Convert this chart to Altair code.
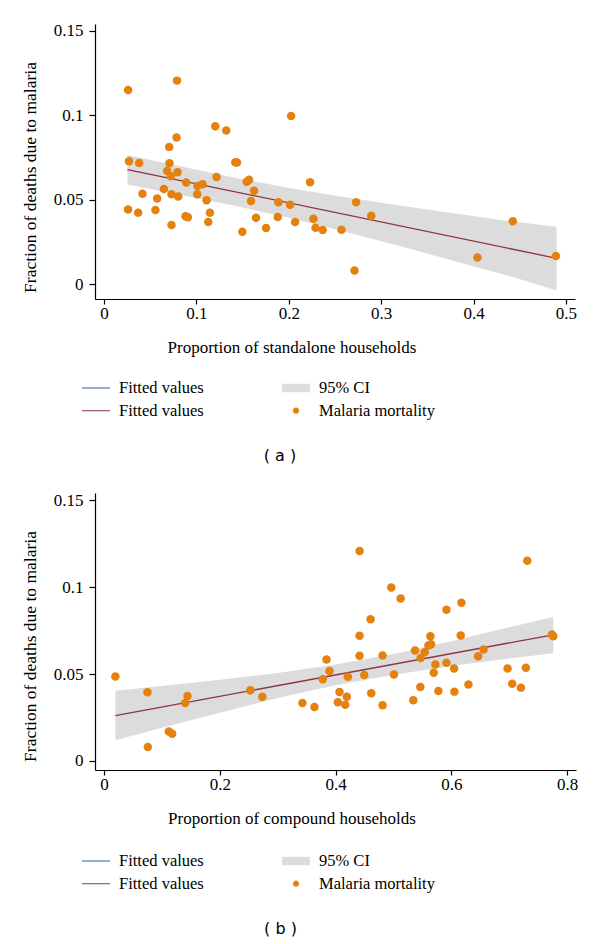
import altair as alt
import pandas as pd

# ---------------- data: panel (a) ----------------
xa = [0.026, 0.079, 0.027, 0.038, 0.0705, 0.0785, 0.0708, 0.0683, 0.0723, 0.0795,
      0.0647, 0.0416, 0.0575, 0.073, 0.0803, 0.026, 0.0369, 0.0556, 0.073, 0.0889,
      0.1012, 0.1066, 0.1009, 0.111, 0.1146, 0.1128, 0.0882, 0.0907, 0.1204, 0.1323,
      0.1218, 0.1421, 0.1439, 0.1544, 0.157, 0.1624, 0.1591, 0.1645, 0.1497, 0.1754,
      0.1887, 0.188, 0.2014, 0.2025, 0.2068, 0.223, 0.2729, 0.2267, 0.2289, 0.2367,
      0.257, 0.2892, 0.2711, 0.4425, 0.4042, 0.4892]
ya = [0.115, 0.1205, 0.0728, 0.0718, 0.0813, 0.0868, 0.0716, 0.0671, 0.0639, 0.0663,
      0.0564, 0.0536, 0.0507, 0.0533, 0.0519, 0.0442, 0.0424, 0.044, 0.0351, 0.0602,
      0.0582, 0.0592, 0.0533, 0.0497, 0.0424, 0.0369, 0.0403, 0.0397, 0.0935, 0.091,
      0.0635, 0.0722, 0.072, 0.0606, 0.0619, 0.0554, 0.0493, 0.0394, 0.0311, 0.0333,
      0.0485, 0.0398, 0.0471, 0.0996, 0.0369, 0.0604, 0.0485, 0.0388, 0.0335, 0.0321,
      0.0323, 0.0406, 0.0081, 0.0373, 0.0158, 0.0168]
fit_a_x = [0.0253, 0.4899]
fit_a_y = [0.0679, 0.0154]
band_a_x = [0.0253, 0.08, 0.14, 0.20, 0.26, 0.32, 0.38, 0.44, 0.4899]
band_a_lo = [0.0591, 0.0532, 0.0466, 0.0394, 0.0312, 0.0226, 0.0137, 0.0047, -0.0036]
band_a_hi = [0.0765, 0.0702, 0.0632, 0.0570, 0.0516, 0.0466, 0.0419, 0.0373, 0.0341]

# ---------------- data: panel (b) ----------------
xb = [0.0196, 0.075, 0.0756, 0.112, 0.1177, 0.1402, 0.1442, 0.2527, 0.2735,
      0.4414, 0.7311, 0.4962, 0.5124, 0.6174, 0.5915, 0.4604, 0.4414, 0.5638, 0.6162,
      0.7738, 0.776, 0.5603, 0.5649, 0.5539, 0.5372, 0.547, 0.6555, 0.6462, 0.4414,
      0.4812, 0.3843, 0.3895, 0.3779, 0.4212, 0.4495, 0.5008, 0.5724, 0.5915, 0.5695,
      0.6047, 0.6971, 0.7288, 0.6295, 0.7051, 0.7201, 0.5464, 0.5776, 0.6053, 0.4068,
      0.4194, 0.4039, 0.4166, 0.4616, 0.3427, 0.3635, 0.4812, 0.5343]
yb = [0.0486, 0.0396, 0.0081, 0.0169, 0.0156, 0.0334, 0.0374, 0.0407, 0.0369,
      0.1208, 0.1152, 0.0998, 0.0935, 0.091, 0.087, 0.0816, 0.072, 0.0718, 0.0722,
      0.0728, 0.0718, 0.0664, 0.0672, 0.0626, 0.0635, 0.0593, 0.0641, 0.0603, 0.0605,
      0.0607, 0.0584, 0.0518, 0.047, 0.0484, 0.0495, 0.0497, 0.0555, 0.0565, 0.0507,
      0.0532, 0.0532, 0.0537, 0.044, 0.0444, 0.0422, 0.0425, 0.0403, 0.0399, 0.0397,
      0.0369, 0.0338, 0.0323, 0.039, 0.0334, 0.0311, 0.0321, 0.035]
fit_b_x = [0.0196, 0.776]
fit_b_y = [0.0261, 0.0726]
band_b_x = [0.0196, 0.10, 0.20, 0.30, 0.40, 0.50, 0.60, 0.70, 0.776]
band_b_lo = [0.0119, 0.0191, 0.0277, 0.0362, 0.0435, 0.0496, 0.0547, 0.0589, 0.0620]
band_b_hi = [0.0404, 0.0431, 0.0467, 0.0506, 0.0555, 0.0616, 0.0689, 0.0769, 0.0829]

# ---------------- legend ----------------
legend_keys = ["Fitted values", "Fitted values ", "95% CI", "Malaria mortality"]

BLUE = "#2b5a8c"
RED = "#8e3441"
GRAY = "#dcdcdc"
ORANGE = "#e5810f"
SERIF = "Liberation Serif"

line_path = "M-1,-0.04H1V0.04H-1Z"
rect_path = "M-1,-0.3H1V0.3H-1Z"
dot_path = "M0.22,0A0.22,0.22,0,1,1,-0.22,0A0.22,0.22,0,1,1,0.22,0Z"


def panel(px, py, fx, fy, bx, blo, bhi, xdom, ydom, xticks, xtitle, w, h, caption, leg_y):
    pts = pd.DataFrame({"x": px, "y": py})
    fit = pd.DataFrame({"x": fx, "y": fy})
    band = pd.DataFrame({"x": bx, "lo": blo, "hi": bhi})
    leg = pd.DataFrame({"k": legend_keys, "x": [xdom[0] - 1] * 4, "y": [ydom[0] - 1] * 4})

    xs = alt.Scale(domain=xdom, nice=False, zero=False)
    ys = alt.Scale(domain=ydom, nice=False, zero=False)
    xax = alt.Axis(values=xticks, format="~g", title=xtitle, titleX=196.5,
                   titleY=53, titleBaseline="alphabetic", titleAlign="center")
    yax = alt.Axis(values=[0, 0.05, 0.1, 0.15], format="~g",
                   title="Fraction of deaths due to malaria",
                   titleX=-59.6, titleY=153, titleBaseline="alphabetic",
                   titleAlign="center", labelPadding=6, tickSize=6, titleFontSize=17.5)

    band_l = alt.Chart(band).mark_area(color=GRAY, opacity=1).encode(
        x=alt.X("x:Q", scale=xs, axis=xax),
        y=alt.Y("lo:Q", scale=ys, axis=yax),
        y2="hi:Q",
    )
    fit_l = alt.Chart(fit).mark_line(color=RED, strokeWidth=1.3).encode(
        x=alt.X("x:Q", scale=xs), y=alt.Y("y:Q", scale=ys)
    )
    pts_l = alt.Chart(pts).mark_circle(color=ORANGE, opacity=1, size=72).encode(
        x=alt.X("x:Q", scale=xs), y=alt.Y("y:Q", scale=ys)
    )
    leg_l = alt.Chart(leg).mark_point(filled=True, clip=True, opacity=1).encode(
        x=alt.X("x:Q", scale=xs),
        y=alt.Y("y:Q", scale=ys),
        color=alt.Color("k:N", sort=legend_keys,
                        scale=alt.Scale(domain=legend_keys, range=[BLUE, RED, GRAY, ORANGE]),
                        legend=alt.Legend(title=None, orient="none", legendX=-13, legendY=leg_y,
                                          columns=2, columnPadding=78, rowPadding=2.7,
                                          clipHeight=20, symbolSize=784, labelOffset=9,
                                          symbolStrokeWidth=0, labelFont=SERIF,
                                          labelFontSize=16.5, labelColor="black",
                                          padding=0, labelLimit=300)),
        shape=alt.Shape("k:N", sort=legend_keys,
                        scale=alt.Scale(domain=legend_keys,
                                        range=[line_path, line_path, rect_path, dot_path]),
                        legend=None),
    )
    return alt.layer(band_l, fit_l, pts_l, leg_l).properties(
        width=w, height=h,
        title=alt.TitleParams(caption, orient="bottom", font="DejaVu Sans", fontSize=16,
                              fontWeight="normal", color="black", anchor="middle",
                              frame="group", dx=-55, offset=27),
    )


pa = panel(xa, ya, fit_a_x, fit_a_y, band_a_x, band_a_lo, band_a_hi,
           [-0.0098, 0.5098], [-0.0087, 0.154], [0, 0.1, 0.2, 0.3, 0.4, 0.5],
           "Proportion of standalone households", 480, 275, "( a )", 354)
pb = panel(xb, yb, fit_b_x, fit_b_y, band_b_x, band_b_lo, band_b_hi,
           [-0.0156, 0.8153], [-0.0052, 0.1542], [0, 0.2, 0.4, 0.6, 0.8],
           "Proportion of compound households", 481, 277, "( b )", 358)

chart = alt.vconcat(pa, pb, spacing=27).resolve_scale(
    color="independent", shape="independent"
).resolve_legend(color="independent", shape="independent").properties(
    padding={"left": 13, "top": 13, "right": 5, "bottom": 5},
    background="white",
).configure_view(stroke=None).configure_axis(
    labelFont=SERIF, labelFontSize=17, titleFont=SERIF, titleFontSize=17,
    titleFontWeight="normal", labelColor="black", titleColor="black",
    domainColor="black", tickColor="black", domainWidth=1.2, tickWidth=1.2,
    tickSize=5, grid=False, labelPadding=1,
)

chart.save("out.html", embed_options={"renderer": "svg", "actions": False})
